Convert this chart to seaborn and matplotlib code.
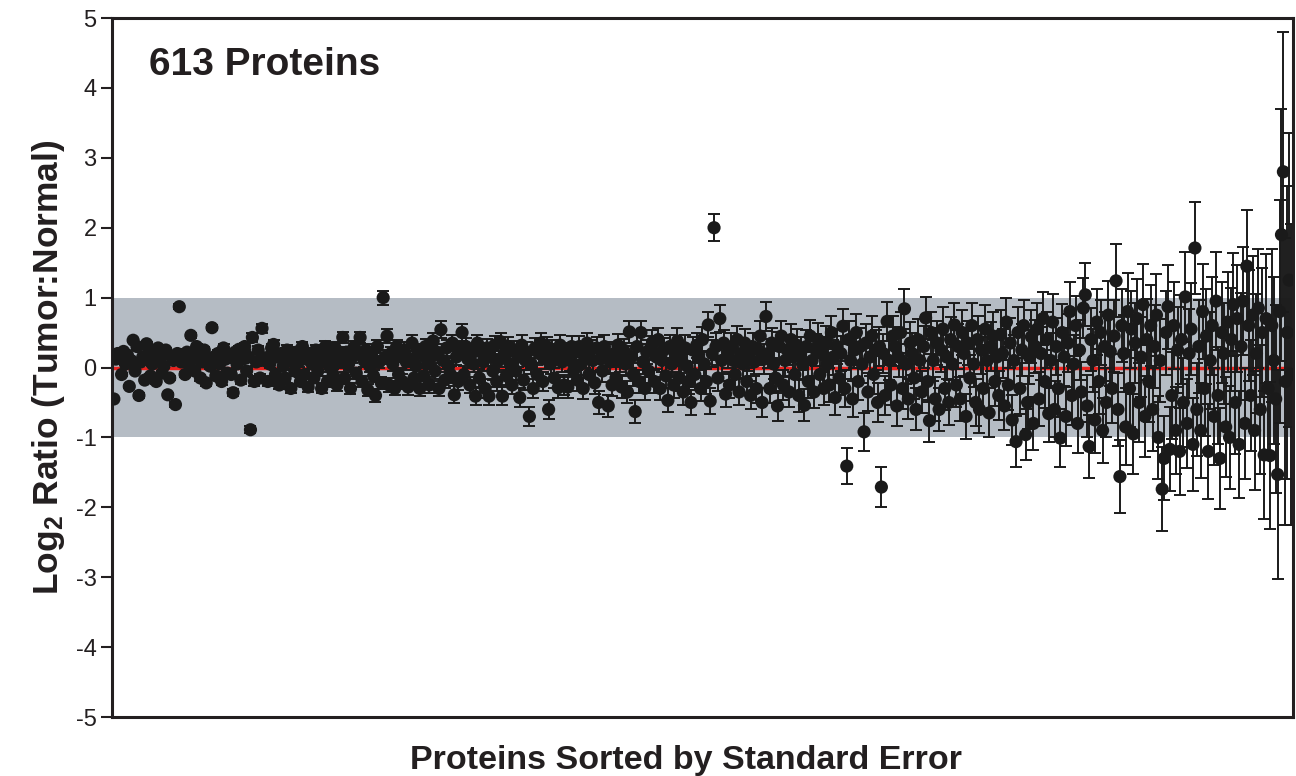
import numpy as np
import pandas as pd
import matplotlib
matplotlib.use("Agg")
import matplotlib.pyplot as plt
import seaborn as sns

# log2 ratio of each protein, sorted by standard error (rows of 20)
log2_ratio = [
    -0.45, 0.12, 0.2, 0.15, -0.1, 0.23, 0.05, 0.18, -0.27, 0.1, 0.39, -0.05, 0.3, -0.4, 0.08, 0.15, -0.18, 0.34, 0.22, -0.12,
    0.05, 0.18, -0.2, 0.28, 0.12, -0.08, 0.02, 0.25, -0.39, -0.15, 0.16, 0.1, -0.53, 0.2, 0.87, 0.08, 0.15, -0.1, 0.22, 0.05,
    0.46, 0.12, -0.05, 0.3, 0.18, -0.15, 0.08, 0.25, -0.22, 0.1, 0.02, 0.57, 0.15, -0.12, 0.2, 0.05, -0.2, 0.28, 0.12, -0.08,
    0.18, -0.1, -0.36, 0.22, 0.05, 0.26, -0.18, 0.12, 0.3, -0.05, 0.15, -0.89, 0.43, -0.2, 0.08, 0.25, -0.15, 0.56, 0.1, 0.14,
    -0.2, 0.05, 0.28, 0.33, -0.1, 0.15, -0.25, 0.2, 0.02, -0.15, 0.25, 0.1, -0.3, 0.18, -0.05, 0.22, 0.08, -0.2, 0.3, -0.1,
    0.12, -0.28, 0.2, 0.05, -0.15, 0.25, -0.05, 0.15, -0.3, 0.1, 0.3, -0.2, 0.02, 0.18, -0.1, 0.28, -0.25, 0.08, 0.2, 0.43,
    -0.15, 0.22, 0.05, -0.3, 0.15, 0.3, -0.08, 0.2, 0.43, -0.2, 0.1, 0.25, -0.32, 0.02, 0.18, -0.12, -0.4, 0.3, 0.08, -0.22,
    1.0, 0.15, 0.45, -0.25, 0.2, 0.05, -0.3, 0.3, -0.1, 0.18, -0.2, 0.25, 0.08, -0.28, 0.12, 0.35, -0.15, 0.02, 0.22, -0.3,
    0.2, -0.12, 0.3, 0.05, -0.25, 0.15, 0.38, -0.05, 0.22, -0.3, 0.54, 0.1, -0.18, 0.28, 0.02, -0.1, 0.35, -0.39, 0.15, -0.2,
    0.25, 0.5, -0.1, 0.3, 0.12, -0.25, 0.2, 0.05, -0.41, 0.35, -0.15, 0.22, 0.08, -0.3, 0.28, -0.41, 0.15, -0.05, 0.32, -0.2,
    0.1, 0.37, -0.41, 0.2, -0.12, 0.3, 0.05, -0.25, 0.25, -0.05, 0.15, -0.43, 0.32, -0.18, 0.1, 0.22, -0.7, 0.05, -0.3, 0.28,
    -0.1, 0.2, 0.35, -0.2, 0.12, 0.3, -0.6, 0.05, 0.25, -0.15, 0.18, -0.29, 0.32, 0.08, -0.25, 0.2, -0.28, 0.1, 0.3, -0.05,
    0.22, -0.18, 0.3, 0.05, -0.3, 0.15, 0.35, -0.1, 0.25, 0.1, -0.22, 0.28, -0.5, 0.12, -0.05, 0.3, 0.18, -0.55, 0.08, -0.25,
    0.2, -0.15, 0.32, 0.1, -0.28, 0.25, 0.05, -0.35, 0.51, 0.15, -0.1, -0.63, 0.3, -0.2, 0.5, 0.08, -0.3, 0.22, -0.05, 0.28,
    0.36, -0.2, 0.15, 0.4, -0.3, 0.1, 0.25, -0.12, -0.47, 0.3, 0.05, -0.25, 0.2, 0.38, -0.15, 0.1, -0.35, 0.28, 0.02, -0.2,
    -0.5, 0.25, -0.1, 0.32, 0.15, -0.3, 0.4, 0.05, -0.2, 0.61, -0.48, 0.2, 2.0, 0.3, -0.15, 0.7, 0.1, 0.35, -0.38, 0.18,
    -0.25, 0.3, 0.1, -0.1, 0.4, -0.35, 0.2, 0.05, 0.35, -0.2, 0.15, -0.4, 0.3, 0.08, -0.3, 0.25, 0.45, -0.5, 0.12, 0.73,
    0.2, -0.3, 0.35, 0.05, -0.15, -0.55, 0.3, 0.45, -0.25, 0.1, 0.25, -0.35, 0.4, 0.15, -0.1, 0.32, -0.4, 0.2, 0.05, -0.54,
    0.3, -0.2, 0.45, 0.1, -0.35, 0.25, 0.4, -0.1, 0.2, -0.3, 0.35, 0.05, -0.25, 0.5, 0.15, -0.43, 0.3, -0.15, 0.2, 0.59,
    -0.3, -1.41, 0.4, 0.1, -0.45, 0.25, 0.5, -0.2, 0.3, 0.05, -0.92, 0.35, -0.35, 0.15, 0.45, -0.1, 0.25, -0.5, 0.3, -1.71,
    0.2, -0.4, 0.66, 0.1, -0.25, 0.45, 0.3, -0.55, 0.15, 0.5, -0.3, 0.84, 0.05, -0.45, 0.35, 0.2, -0.15, -0.6, 0.4, 0.1,
    -0.35, 0.3, 0.71, -0.2, -0.76, 0.5, 0.1, -0.45, 0.35, -0.6, 0.25, 0.55, -0.3, 0.15, -0.5, 0.4, 0.05, 0.61, -0.25, 0.3,
    -0.45, 0.5, 0.2, -0.7, 0.35, -0.15, 0.6, 0.05, -0.5, 0.4, -0.6, 0.25, -0.3, 0.55, 0.1, -0.65, 0.3, 0.45, -0.2, 0.15,
    -0.4, 0.47, 0.2, -0.55, 0.65, -0.25, 0.35, -0.75, 0.1, -1.06, 0.5, -0.3, 0.25, 0.6, -0.96, -0.5, 0.15, 0.44, -0.8, 0.3,
    0.55, -0.45, 0.2, 0.7, -0.2, 0.4, -0.66, 0.1, 0.65, -0.6, 0.3, -0.3, -1.01, 0.5, 0.15, -0.7, 0.35, 0.8, -0.4, 0.05,
    0.6, -0.8, 0.25, -0.35, 0.85, 1.04, -0.55, -1.13, 0.4, 0.1, -0.75, 0.65, -0.2, 0.5, -0.9, 0.3, -0.5, 0.75, 0.23, -0.3,
    0.45, 1.24, -0.6, -1.56, 0.6, 0.2, -0.85, 0.8, -0.3, 0.55, -0.95, 0.35, 0.7, -0.5, 0.15, 0.9, -0.7, 0.4, -0.2, 0.6,
    -0.6, 0.3, 0.75, -1.0, 0.1, -1.74, -1.3, 0.5, 0.87, -1.17, -0.4, 0.6, -0.9, 0.25, -1.2, 0.4, -0.5, 1.01, -0.8, 0.2,
    0.55, -1.1, 1.71, -0.6, 0.3, -0.9, 0.8, -0.3, 0.45, -1.2, 0.1, 0.6, -0.7, 0.95, -0.4, -1.3, 0.5, 0.2, -0.85, 0.65,
    -1.0, 0.4, 0.9, -0.5, 0.7, -1.1, 0.3, 0.95, -0.8, 1.45, 0.6, -0.4, 0.75, -0.9, 0.2, 0.85, -0.6, 0.5, -1.25, 0.7,
    -0.3, -1.26, 0.6, 0.1, -0.45, -1.53, 0.8, 1.9, 2.8, -0.2, 0.5, 1.25, -0.1,
]

# standard error of each protein (same order)
std_error = [
    0.02, 0.02, 0.02, 0.02, 0.02, 0.02, 0.02, 0.02, 0.02, 0.02, 0.02, 0.02, 0.03, 0.03, 0.03, 0.03, 0.03, 0.03, 0.03, 0.03,
    0.03, 0.03, 0.03, 0.03, 0.03, 0.03, 0.03, 0.03, 0.03, 0.03, 0.03, 0.03, 0.04, 0.04, 0.04, 0.04, 0.04, 0.04, 0.04, 0.04,
    0.04, 0.04, 0.04, 0.04, 0.04, 0.04, 0.04, 0.04, 0.04, 0.04, 0.04, 0.04, 0.05, 0.05, 0.05, 0.05, 0.05, 0.05, 0.05, 0.05,
    0.05, 0.05, 0.05, 0.05, 0.05, 0.05, 0.05, 0.05, 0.05, 0.05, 0.05, 0.05, 0.06, 0.06, 0.06, 0.06, 0.06, 0.06, 0.06, 0.06,
    0.06, 0.06, 0.06, 0.06, 0.06, 0.06, 0.06, 0.06, 0.06, 0.06, 0.07, 0.07, 0.07, 0.07, 0.07, 0.07, 0.07, 0.07, 0.07, 0.07,
    0.07, 0.07, 0.07, 0.07, 0.07, 0.07, 0.07, 0.07, 0.07, 0.07, 0.08, 0.08, 0.08, 0.08, 0.08, 0.08, 0.08, 0.08, 0.08, 0.08,
    0.08, 0.08, 0.08, 0.08, 0.08, 0.08, 0.08, 0.08, 0.08, 0.08, 0.09, 0.09, 0.09, 0.09, 0.09, 0.09, 0.09, 0.09, 0.09, 0.09,
    0.10, 0.10, 0.10, 0.10, 0.10, 0.10, 0.10, 0.10, 0.10, 0.10, 0.11, 0.11, 0.11, 0.11, 0.11, 0.11, 0.11, 0.11, 0.11, 0.11,
    0.11, 0.11, 0.11, 0.11, 0.11, 0.11, 0.11, 0.11, 0.11, 0.11, 0.12, 0.12, 0.12, 0.12, 0.12, 0.12, 0.12, 0.12, 0.12, 0.12,
    0.12, 0.12, 0.12, 0.12, 0.12, 0.12, 0.12, 0.12, 0.12, 0.12, 0.13, 0.13, 0.13, 0.13, 0.13, 0.13, 0.13, 0.13, 0.13, 0.13,
    0.13, 0.13, 0.13, 0.13, 0.13, 0.13, 0.13, 0.13, 0.13, 0.13, 0.14, 0.14, 0.14, 0.14, 0.14, 0.14, 0.14, 0.14, 0.14, 0.14,
    0.14, 0.14, 0.14, 0.14, 0.14, 0.14, 0.14, 0.14, 0.14, 0.14, 0.15, 0.15, 0.15, 0.15, 0.15, 0.15, 0.15, 0.15, 0.15, 0.15,
    0.15, 0.15, 0.15, 0.15, 0.15, 0.15, 0.15, 0.15, 0.15, 0.15, 0.16, 0.16, 0.16, 0.16, 0.16, 0.16, 0.16, 0.16, 0.16, 0.16,
    0.16, 0.16, 0.16, 0.16, 0.16, 0.16, 0.16, 0.16, 0.16, 0.16, 0.17, 0.17, 0.17, 0.17, 0.17, 0.17, 0.17, 0.17, 0.17, 0.17,
    0.17, 0.17, 0.17, 0.17, 0.17, 0.17, 0.17, 0.17, 0.17, 0.17, 0.18, 0.18, 0.18, 0.18, 0.18, 0.18, 0.18, 0.18, 0.18, 0.18,
    0.18, 0.18, 0.18, 0.18, 0.18, 0.18, 0.18, 0.18, 0.18, 0.18, 0.19, 0.19, 0.19, 0.19, 0.19, 0.19, 0.19, 0.19, 0.19, 0.19,
    0.19, 0.19, 0.19, 0.19, 0.19, 0.19, 0.19, 0.20, 0.20, 0.20, 0.20, 0.20, 0.20, 0.20, 0.21, 0.21, 0.21, 0.21, 0.21, 0.21,
    0.21, 0.21, 0.21, 0.21, 0.21, 0.21, 0.21, 0.22, 0.22, 0.22, 0.22, 0.22, 0.22, 0.22, 0.23, 0.23, 0.23, 0.23, 0.23, 0.23,
    0.23, 0.23, 0.23, 0.23, 0.23, 0.23, 0.23, 0.24, 0.24, 0.24, 0.24, 0.24, 0.24, 0.24, 0.25, 0.25, 0.25, 0.25, 0.25, 0.25,
    0.26, 0.26, 0.26, 0.26, 0.26, 0.26, 0.26, 0.27, 0.27, 0.27, 0.27, 0.27, 0.27, 0.27, 0.28, 0.28, 0.28, 0.28, 0.28, 0.28,
    0.28, 0.28, 0.28, 0.28, 0.28, 0.28, 0.28, 0.29, 0.29, 0.29, 0.29, 0.29, 0.29, 0.29, 0.30, 0.30, 0.30, 0.30, 0.30, 0.30,
    0.30, 0.30, 0.30, 0.30, 0.30, 0.30, 0.30, 0.31, 0.31, 0.31, 0.31, 0.31, 0.31, 0.31, 0.32, 0.32, 0.32, 0.32, 0.32, 0.32,
    0.32, 0.32, 0.32, 0.32, 0.32, 0.33, 0.33, 0.33, 0.33, 0.33, 0.34, 0.34, 0.34, 0.34, 0.34, 0.35, 0.35, 0.35, 0.35, 0.35,
    0.35, 0.35, 0.35, 0.35, 0.35, 0.36, 0.36, 0.36, 0.36, 0.36, 0.37, 0.37, 0.37, 0.37, 0.37, 0.38, 0.38, 0.38, 0.38, 0.38,
    0.38, 0.38, 0.38, 0.38, 0.38, 0.40, 0.40, 0.40, 0.40, 0.40, 0.41, 0.41, 0.41, 0.41, 0.41, 0.42, 0.42, 0.42, 0.42, 0.42,
    0.43, 0.43, 0.43, 0.43, 0.43, 0.45, 0.45, 0.45, 0.45, 0.45, 0.47, 0.47, 0.47, 0.47, 0.47, 0.49, 0.49, 0.49, 0.49, 0.49,
    0.52, 0.52, 0.52, 0.52, 0.52, 0.55, 0.55, 0.55, 0.55, 0.55, 0.57, 0.57, 0.57, 0.57, 0.57, 0.58, 0.58, 0.58, 0.58, 0.58,
    0.59, 0.59, 0.59, 0.59, 0.59, 0.60, 0.60, 0.60, 0.60, 0.60, 0.62, 0.62, 0.62, 0.62, 0.62, 0.64, 0.64, 0.64, 0.64, 0.64,
    0.66, 0.66, 0.66, 0.66, 0.66, 0.68, 0.68, 0.68, 0.68, 0.68, 0.70, 0.70, 0.70, 0.70, 0.70, 0.72, 0.72, 0.72, 0.72, 0.72,
    0.74, 0.74, 0.74, 0.74, 0.77, 0.77, 0.77, 0.77, 0.80, 0.80, 0.80, 0.80, 0.85, 0.85, 0.85, 0.85, 0.92, 0.92, 0.92, 0.92,
    1.0, 1.05, 1.1, 1.2, 1.35, 1.5, 1.6, 1.8, 2.0, 2.05, 2.1, 2.1, 2.15,
]

y_ticks = [-5, -4, -3, -2, -1, 0, 1, 2, 3, 4, 5]

n = min(len(log2_ratio), len(std_error))
df = pd.DataFrame({
    "rank": np.arange(n),
    "ratio": log2_ratio[:n],
    "se": std_error[:n],
})

sns.set_style("ticks")
plt.rcParams["font.family"] = ["Liberation Sans", "DejaVu Sans"]
plt.rcParams["text.color"] = "#231f20"
plt.rcParams["axes.labelcolor"] = "#231f20"
plt.rcParams["ytick.color"] = "#231f20"
plt.rcParams["mathtext.fontset"] = "custom"
plt.rcParams["mathtext.rm"] = "Liberation Sans:bold"
plt.rcParams["mathtext.bf"] = "Liberation Sans:bold"
plt.rcParams["mathtext.default"] = "bf"

fig = plt.figure(figsize=(12.96, 7.76), dpi=100)
ax = fig.add_axes([0.0864, 0.076, 0.9113, 0.9008])

# +/- 1 band and zero line
ax.axhspan(-1, 1, color="#b5bcc4", zorder=0, lw=0)
ax.axhline(0, color="#e8231f", lw=2.5, zorder=1)

ax.errorbar(df["rank"], df["ratio"], yerr=df["se"], fmt="none",
            ecolor="#1a1a1a", elinewidth=1.4, capsize=4.5, capthick=1.4,
            zorder=2)
sns.scatterplot(data=df, x="rank", y="ratio", ax=ax, s=90, color="#1a1a1a",
                edgecolor="none", zorder=3, legend=False)

ax.set_xlim(-1, n)
ax.set_ylim(-5, 5)
ax.set_yticks(y_ticks)
ax.set_yticklabels([str(t) for t in y_ticks], fontsize=17)
ax.set_xticks([])
ax.tick_params(axis="y", direction="out", length=8, width=1.5, pad=3,
               colors="#231f20")
for sp in ax.spines.values():
    sp.set_linewidth(2.2)
    sp.set_color("#231f20")

ax.set_ylabel(r"Log$_2$ Ratio (Tumor:Normal)", fontsize=25.5,
              fontweight="bold", labelpad=6)
ax.set_xlabel("Proteins Sorted by Standard Error", fontsize=24.5,
              fontweight="bold", labelpad=20)
ax.xaxis.label.set_x(0.486)
ax.text(0.031, 0.933, "613 Proteins", transform=ax.transAxes, fontsize=28,
        fontweight="bold", va="center", ha="left")

fig.savefig("out.png", dpi=100)
